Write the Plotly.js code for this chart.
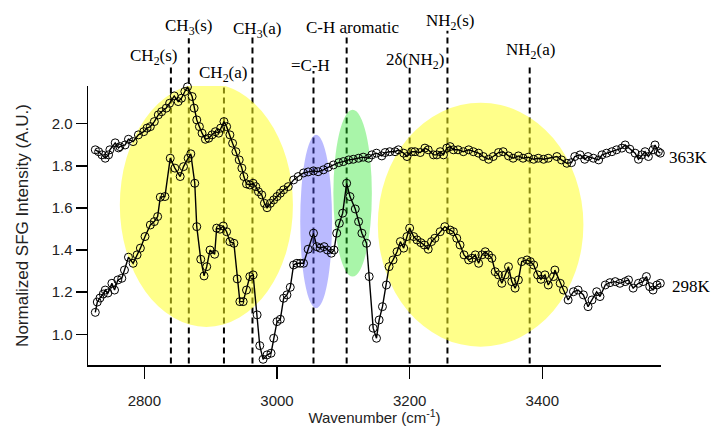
<!DOCTYPE html>
<html>
<head>
<meta charset="utf-8">
<script src="https://cdn.plot.ly/plotly-3.0.1.min.js"></script>
<style>html,body{margin:0;padding:0;background:#fff;}#chart{width:711px;height:426px;}</style>
</head>
<body>
<div id="chart"></div>
<script>
// ---- Data ----
const wn298 = [2726,2729,2733,2738,2741,2745,2751,2755,2760,2766,2770,2776,2783,2789,2794,2801,2809,2815,2820,2824,2831,2839,2846,2854,2859,2866,2870,2876,2879,2885,2890,2894,2899,2906,2909,2914,2919,2924,2929,2935,2940,2944,2949,2954,2959,2964,2970,2974,2979,2985,2991,2995,3000,3005,3010,3015,3020,3025,3030,3035,3040,3047,3055,3060,3065,3071,3076,3082,3086,3090,3094,3099,3105,3110,3118,3123,3128,3135,3139,3145,3150,3154,3159,3165,3169,3175,3181,3186,3191,3196,3200,3206,3211,3217,3222,3228,3233,3238,3246,3253,3261,3266,3271,3276,3282,3289,3294,3299,3304,3309,3314,3319,3324,3329,3334,3339,3344,3349,3354,3359,3364,3369,3377,3382,3387,3393,3398,3404,3409,3417,3419,3427,3432,3439,3447,3454,3462,3469,3475,3482,3487,3495,3502,3510,3517,3525,3530,3537,3545,3552,3557,3562,3567,3573,3578];
const sfg298 = [1.104,1.153,1.172,1.191,1.210,1.196,1.242,1.210,1.258,1.266,1.305,1.366,1.337,1.377,1.409,1.464,1.519,1.535,1.559,1.651,1.654,1.836,1.789,1.749,1.796,1.836,1.857,1.717,1.511,1.356,1.277,1.321,1.400,1.380,1.504,1.499,1.514,1.487,1.440,1.432,1.263,1.155,1.155,1.210,1.274,1.282,1.092,0.946,0.881,0.902,0.910,0.981,1.060,1.071,1.171,1.187,1.223,1.329,1.337,1.337,1.337,1.404,1.480,1.416,1.409,1.416,1.400,1.385,1.400,1.480,1.527,1.575,1.717,1.654,1.595,1.535,1.480,1.432,1.274,1.029,0.981,1.068,1.131,1.234,1.321,1.353,1.392,1.440,1.409,1.464,1.504,1.464,1.448,1.435,1.424,1.404,1.440,1.456,1.487,1.511,1.495,1.487,1.456,1.424,1.377,1.353,1.361,1.377,1.337,1.377,1.392,1.377,1.361,1.297,1.282,1.242,1.282,1.321,1.250,1.219,1.258,1.345,1.353,1.345,1.329,1.282,1.261,1.282,1.234,1.274,1.305,1.242,1.210,1.163,1.202,1.210,1.187,1.131,1.163,1.202,1.179,1.234,1.245,1.250,1.242,1.250,1.258,1.219,1.242,1.250,1.274,1.226,1.210,1.234,1.242];

const wn363 = [2726,2731,2736,2741,2746,2748,2756,2761,2763,2771,2776,2783,2791,2799,2804,2809,2815,2821,2826,2833,2838,2845,2851,2856,2861,2865,2872,2875,2879,2883,2887,2892,2897,2902,2907,2912,2915,2920,2924,2929,2933,2938,2943,2947,2950,2954,2959,2964,2968,2972,2977,2981,2985,2990,2995,3000,3005,3010,3017,3025,3032,3040,3047,3055,3062,3070,3077,3085,3093,3100,3108,3115,3123,3130,3138,3143,3150,3158,3163,3170,3178,3183,3191,3196,3203,3208,3216,3223,3228,3236,3241,3246,3251,3256,3261,3266,3273,3281,3289,3296,3304,3311,3319,3326,3334,3341,3349,3356,3364,3371,3379,3387,3394,3402,3409,3422,3429,3437,3444,3449,3457,3464,3469,3477,3485,3490,3497,3505,3512,3520,3525,3532,3540,3545,3550,3555,3560,3567,3570,3575,3578];
const sfg363 = [1.876,1.867,1.852,1.836,1.852,1.876,1.909,1.885,1.891,1.899,1.926,1.915,1.947,1.962,1.979,1.986,2.010,2.042,2.057,2.074,2.097,2.132,2.105,2.121,2.153,2.175,2.129,2.074,2.018,1.986,1.955,1.926,1.931,1.947,1.962,1.955,1.979,2.010,1.986,1.947,1.907,1.867,1.828,1.789,1.749,1.714,1.709,1.717,1.701,1.677,1.662,1.622,1.601,1.622,1.638,1.654,1.670,1.686,1.701,1.733,1.749,1.766,1.771,1.776,1.772,1.781,1.793,1.804,1.815,1.820,1.828,1.831,1.836,1.841,1.836,1.852,1.860,1.847,1.863,1.867,1.867,1.876,1.860,1.844,1.867,1.867,1.863,1.884,1.876,1.852,1.852,1.867,1.852,1.884,1.891,1.876,1.876,1.867,1.876,1.867,1.860,1.844,1.831,1.844,1.863,1.867,1.847,1.836,1.847,1.836,1.841,1.831,1.836,1.831,1.836,1.844,1.828,1.812,1.815,1.844,1.852,1.831,1.844,1.836,1.828,1.852,1.860,1.867,1.876,1.884,1.899,1.879,1.860,1.831,1.852,1.867,1.844,1.876,1.899,1.867,1.860];

const seriesNames = ["363K", "298K"];

// vibrational mode assignments (wavenumber of dashed marker)
const modeNames = ["CH<sub>2</sub>(s)", "CH<sub>3</sub>(s)", "CH<sub>2</sub>(a)", "CH<sub>3</sub>(a)", "=C-H", "C-H aromatic", "2δ(NH<sub>2</sub>)", "NH<sub>2</sub>(s)", "NH<sub>2</sub>(a)"];
const modeWn    = [2840, 2867, 2920, 2963, 3055, 3105, 3200, 3257, 3381];

// highlighted spectral regions: [wn start, wn end], [intensity low, intensity high]
const regionWn  = [[2763, 3024], [3035, 3083], [3085, 3143], [3152, 3462]];
const regionVal = [[1.035, 2.193], [1.124, 1.947], [1.274, 2.066], [0.941, 2.100]];

// ---- Styling / layout (not data) ----
const regionColors = ["rgba(255,255,30,0.52)", "rgba(90,90,255,0.42)", "rgba(40,230,40,0.40)", "rgba(255,255,30,0.52)"];
const lineTop   = [1.072, 1.171, 1.0, 1.177, 1.054, 1.19, 1.065, 1.198, 1.075];
const labelXoff = [-17, 0, -1, 5, -3, 6, 5, 3, 1];
const labelY    = [1.104, 1.211, 1.043, 1.201, 1.072, 1.211, 1.090, 1.229, 1.125];

const serif = "Liberation Serif, Times New Roman, serif";
const sans = "Liberation Sans, Arial, sans-serif";

const traceStyle = {
  type: "scatter", mode: "lines+markers", cliponaxis: false,
  line: {color: "#000", width: 1.4},
  marker: {symbol: "circle-open", size: 8, color: "#000", line: {width: 1}},
  showlegend: false, hoverinfo: "skip"
};
const traces = [
  Object.assign({}, traceStyle, {x: wn363, y: sfg363, name: seriesNames[0]}),
  Object.assign({}, traceStyle, {x: wn298, y: sfg298, name: seriesNames[1]})
];

const shapes = [];
modeWn.forEach((w, i) => {
  shapes.push({type: "line", xref: "x", yref: "paper", x0: w, x1: w, y0: 0.005, y1: lineTop[i],
    line: {color: "#000", width: 2, dash: "6px,4px"}, layer: "below"});
});
regionWn.forEach((r, i) => {
  shapes.push({type: "circle", xref: "x", yref: "y", x0: r[0], x1: r[1], y0: regionVal[i][0], y1: regionVal[i][1],
    fillcolor: regionColors[i], line: {width: 0}, layer: "below"});
});

const annotations = modeNames.map((t, i) => ({
  text: t, xref: "x", yref: "paper", x: modeWn[i], y: labelY[i], xshift: labelXoff[i],
  xanchor: "center", yanchor: "middle", showarrow: false,
  font: {family: serif, size: 17, color: "#000"}
}));
annotations.push({text: seriesNames[0], xref: "paper", yref: "y", x: 1.01, y: 1.84, xanchor: "left", yanchor: "middle",
  showarrow: false, font: {family: serif, size: 17, color: "#000"}});
annotations.push({text: seriesNames[1], xref: "paper", yref: "y", x: 1.016, y: 1.226, xanchor: "left", yanchor: "middle",
  showarrow: false, font: {family: serif, size: 17, color: "#000"}});

const layout = {
  width: 711, height: 426,
  margin: {l: 88, r: 50, t: 86, b: 61, pad: 0},
  paper_bgcolor: "#fff", plot_bgcolor: "rgba(0,0,0,0)",
  xaxis: {
    range: [2715, 3579], tickvals: [2800, 3000, 3200, 3400], ticktext: ["2800", "3000", "3200", "3400"],
    showgrid: false, zeroline: false, showline: true, linecolor: "#000", linewidth: 1.5,
    ticks: "outside", ticklen: 12, tickwidth: 1.5, tickcolor: "#000", ticklabelstandoff: 9,
    tickfont: {family: sans, size: 15, color: "#222"},
    title: {text: "Wavenumber (cm<sup>-1</sup>)", font: {family: sans, size: 15, color: "#222"}, standoff: 9}
  },
  yaxis: {
    range: [0.854, 2.179], tickvals: [1.0, 1.2, 1.4, 1.6, 1.8, 2.0], ticktext: ["1.0", "1.2", "1.4", "1.6", "1.8", "2.0"],
    showgrid: false, zeroline: false, showline: true, linecolor: "#000", linewidth: 1.5,
    ticks: "outside", ticklen: 11, tickwidth: 1.5, tickcolor: "#000",
    tickfont: {family: sans, size: 15, color: "#222"},
    title: {text: "Normalized SFG Intensity (A.U.)", font: {family: sans, size: 17, color: "#222"}, standoff: 18}
  },
  shapes: shapes,
  annotations: annotations
};

Plotly.newPlot("chart", traces, layout, {staticPlot: true, displayModeBar: false});
</script>
</body>
</html>
